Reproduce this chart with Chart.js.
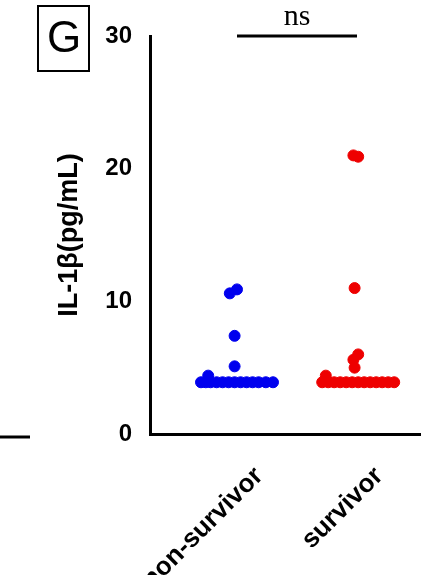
<!DOCTYPE html>
<html><head><meta charset="utf-8">
<script src="https://cdn.jsdelivr.net/npm/chart.js@4"></script>
<style>body{margin:0;background:#fff}#wrap{width:443px;height:575px}</style>
</head><body><div id="wrap"><canvas id="c"></canvas></div>
<script>
var groups = ['non-survivor', 'survivor'];
var yTicks = [0, 10, 20, 30];
// x offsets around each category (in category units)
var nonSurvivorX = [-0.30, -0.26, -0.22, -0.17, -0.12, -0.07, -0.02, 0.03, 0.08, 0.13, 0.18, 0.24, 0.30, -0.24, -0.02, -0.02, -0.06, 0.00];
var nonSurvivorY = [3.9, 3.9, 3.9, 3.9, 3.9, 3.9, 3.9, 3.9, 3.9, 3.9, 3.9, 3.9, 3.9, 4.4, 5.1, 7.4, 10.6, 10.9];
var survivorX = [-0.29, -0.24, -0.19, -0.14, -0.09, -0.04, 0.01, 0.06, 0.11, 0.16, 0.21, 0.26, 0.31, -0.26, -0.02, -0.03, 0.01, -0.02, -0.03, 0.01];
var survivorY = [3.9, 3.9, 3.9, 3.9, 3.9, 3.9, 3.9, 3.9, 3.9, 3.9, 3.9, 3.9, 3.9, 4.4, 5.0, 5.6, 6.0, 11.0, 21.0, 20.9];

function pts(xs, ys, c) {
    return xs.map(function(x, i) { return {x: c + x, y: ys[i]}; });
}

var extras = {
    id: 'extras',
    afterDraw: function(chart) {
        var ctx = chart.ctx, xs = chart.scales.x, ys = chart.scales.y;
        ctx.save();
        ctx.fillStyle = '#000';
        ctx.strokeStyle = '#000';
        // category labels, rotated
        ctx.font = 'bold 26px Arial, "Liberation Sans", sans-serif';
        ctx.textAlign = 'right';
        ctx.textBaseline = 'middle';
        groups.forEach(function(g, i) {
            var px = xs.getPixelForValue(i + 1);
            ctx.save();
            ctx.translate(px + 22, ys.bottom + 38);
            ctx.rotate(-Math.PI / 4);
            ctx.fillText(g, 0, 0);
            ctx.restore();
        });
        // significance bar
        var y0 = ys.getPixelForValue(30);
        ctx.lineWidth = 3;
        ctx.beginPath();
        ctx.moveTo(xs.getPixelForValue(1), y0);
        ctx.lineTo(xs.getPixelForValue(2), y0);
        ctx.stroke();
        ctx.font = '30px "Liberation Serif", "DejaVu Serif", serif';
        ctx.textAlign = 'center';
        ctx.textBaseline = 'bottom';
        ctx.fillText('ns', (xs.getPixelForValue(1) + xs.getPixelForValue(2)) / 2, y0 - 4);
        // panel letter
        ctx.lineWidth = 2;
        ctx.strokeRect(38, 6, 51, 65);
        ctx.font = '44px Arial, "Liberation Sans", sans-serif';
        ctx.textBaseline = 'middle';
        ctx.fillText('G', 64, 40);
        // stub from neighbouring panel
        ctx.lineWidth = 3;
        ctx.beginPath();
        ctx.moveTo(0, 437);
        ctx.lineTo(30, 437);
        ctx.stroke();
        ctx.restore();
    }
};

new Chart(document.getElementById('c'), {
    type: 'scatter',
    data: {
        datasets: [{
            data: pts(nonSurvivorX, nonSurvivorY, 1),
            backgroundColor: '#0000ee', borderColor: '#0000ee', pointRadius: 5.5
        }, {
            data: pts(survivorX, survivorY, 2),
            backgroundColor: '#ee0000', borderColor: '#ee0000', pointRadius: 5.5
        }]
    },
    options: {
        responsive: true,
        maintainAspectRatio: false,
        animation: false,
        layout: {padding: {top: 36, right: 23, left: 53, bottom: 0}},
        plugins: {legend: {display: false}, tooltip: {enabled: false}},
        scales: {
            x: {
                type: 'linear', min: 0.275, max: 2.525,
                afterFit: function(s) { s.height = 141; },
                afterBuildTicks: function(s) { s.ticks = [{value: 1}, {value: 2}]; },
                ticks: {display: false},
                grid: {display: false, drawTicks: true, tickLength: 15, tickWidth: 3, tickColor: '#000'},
                border: {color: '#000', width: 3}
            },
            y: {
                min: 0, max: 30,
                afterFit: function(s) { s.width = 97; },
                afterBuildTicks: function(s) { s.ticks = yTicks.map(function(v) { return {value: v}; }); },
                ticks: {color: '#000', font: {size: 24, weight: 'bold', family: 'Arial, "Liberation Sans", sans-serif'}, padding: 3},
                grid: {display: false, drawTicks: true, tickLength: 15, tickWidth: 3, tickColor: '#000'},
                border: {color: '#000', width: 3},
                title: {display: true, text: 'IL-1β(pg/mL)', color: '#000', padding: 0,
                    font: {size: 27, weight: 'bold', family: 'Arial, "Liberation Sans", sans-serif'}}
            }
        }
    },
    plugins: [extras]
});
</script></body></html>
